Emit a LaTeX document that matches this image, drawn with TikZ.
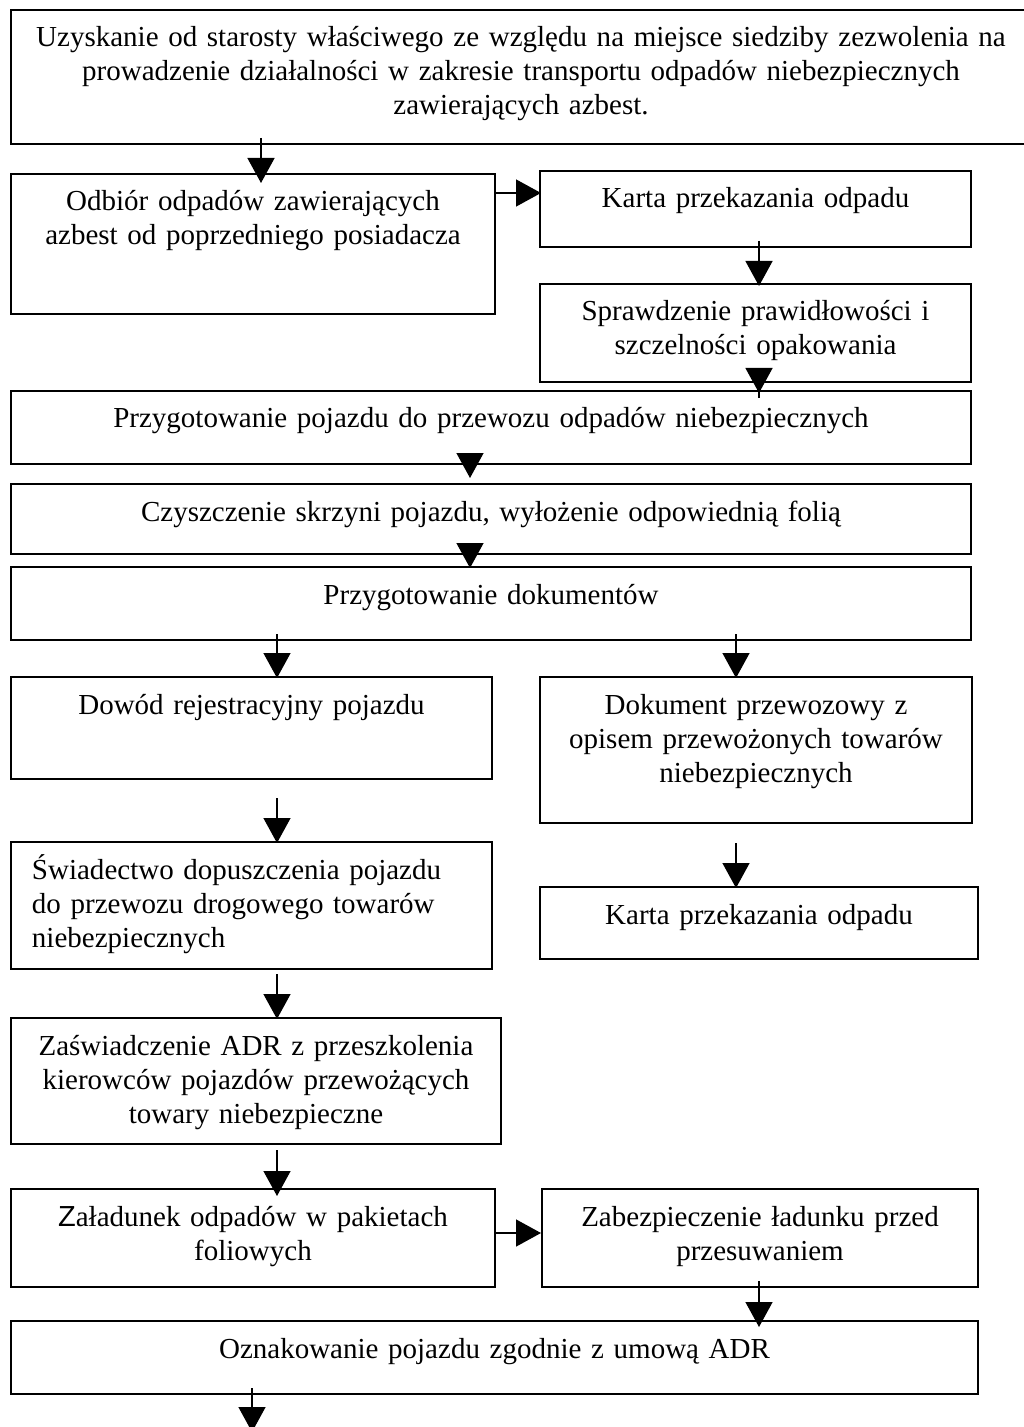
\documentclass[tikz,border=0pt]{standalone}
\usepackage{fontspec}
\setmainfont{Liberation Serif}
\setsansfont{Liberation Sans}
\usepackage{tikz}
\usetikzlibrary{arrows.meta}

\begin{document}
\begin{tikzpicture}[x=0.5pt, y=-0.5pt,
        box/.style={draw, line width=1pt, anchor=north west, inner xsep=0pt, inner ysep=0pt,
            align=center, text height=18.5pt, font=\fontsize{14.5pt}{17pt}\selectfont},
        arr/.style={-{Triangle[length=12.5pt, width=13.5pt]}, line width=0.7pt}]
        \useasboundingbox (0,0) rectangle (1023,1427);

        % Upper part
        \node[box, text width=510pt, text depth=48.5pt] (uzysk) at (10,9)
            {Uzyskanie od starosty właściwego ze względu na miejsce siedziby zezwolenia na\\
             prowadzenie działalności w zakresie transportu odpadów niebezpiecznych\\
             zawierających azbest.};
        \node[box, text width=242pt, text depth=51.5pt] (odbior) at (10,173)
            {Odbiór odpadów zawierających\\ azbest od poprzedniego posiadacza};
        \node[box, text width=215.5pt, text depth=19.5pt] (karta) at (539,170)
            {Karta przekazania odpadu};
        \node[box, text width=215.5pt, text depth=30.5pt] (sprawdz) at (539,283)
            {Sprawdzenie prawidłowości i\\ szczelności opakowania};
        \node[box, text width=480pt, text depth=18pt] (pojazd) at (10,390)
            {Przygotowanie pojazdu do przewozu odpadów niebezpiecznych};
        \node[box, text width=480pt, text depth=16.5pt] (czysz) at (10,483)
            {Czyszczenie skrzyni pojazdu, wyłożenie odpowiednią folią};
        \node[box, text width=480pt, text depth=18pt] (dokum) at (10,566)
            {Przygotowanie dokumentów};

        % Documents
        \node[box, text width=240.5pt, text depth=32.5pt] (dowod) at (10,676)
            {Dowód rejestracyjny pojazdu};
        \node[box, text width=216pt, text depth=54.5pt] (przewoz) at (539,676)
            {Dokument przewozowy z\\ opisem przewożonych towarów\\ niebezpiecznych};
        \node[box, align=left, inner xsep=10.5pt, text width=219.5pt, text depth=45pt] (swiad) at (10,841)
            {Świadectwo dopuszczenia pojazdu\\ do przewozu drogowego towarów\\ niebezpiecznych};
        \node[box, text width=219pt, text depth=17.5pt] (karta2) at (539,886)
            {Karta przekazania odpadu};
        \node[box, text width=245pt, text depth=44.5pt] (adr) at (10,1017)
            {Zaświadczenie ADR z przeszkolenia\\ kierowców pojazdów przewożących\\ towary niebezpieczne};

        % Loading
        \node[box, text width=242pt, text depth=30.5pt] (zalad) at (10,1188)
            {{\sffamily Z}aładunek odpadów w pakietach\\ foliowych};
        \node[box, text width=218pt, text depth=30.5pt] (zabezp) at (541,1188)
            {Zabezpieczenie ładunku przed\\ przesuwaniem};
        \node[box, text width=483.5pt, text depth=18pt] (oznak) at (10,1320)
            {Oznakowanie pojazdu zgodnie z umową ADR};
        \coordinate (koniec) at (252,1432);

        % Arrows
        \draw[arr, shorten <=-3.5pt, shorten >=-5pt] (uzysk.south -| 261,0) -- (odbior.north -| 261,0);
        \draw[arr, shorten >=-1pt] (odbior.east |- 0,193) -- (karta.west |- 0,193);
        \draw[arr, shorten <=-3.5pt, shorten >=-1.5pt] (karta.south -| 759,0) -- (sprawdz.north -| 759,0);
        \draw[arr, shorten <=-7.5pt, shorten >=-1.5pt] (sprawdz.south -| 759,0) -- (pojazd.north -| 759,0);
        \draw[arr, shorten <=-5pt, shorten >=2.5pt] (pojazd.south -| 470,0) -- (czysz.north -| 470,0);
        \draw[arr, shorten <=-5pt, shorten >=-1pt] (czysz.south -| 470,0) -- (dokum.north -| 470,0);
        \draw[arr, shorten <=-3.5pt, shorten >=-1pt] (dokum.south -| 277,0) -- (dowod.north -| 277,0);
        \draw[arr, shorten <=-3.5pt, shorten >=-1pt] (dokum.south -| 736,0) -- (przewoz.north -| 736,0);
        \draw[arr, shorten <=9pt, shorten >=-1pt] (dowod.south -| 277,0) -- (swiad.north -| 277,0);
        \draw[arr, shorten <=9.5pt, shorten >=-1pt] (przewoz.south -| 736,0) -- (karta2.north -| 736,0);
        \draw[arr, shorten <=2pt, shorten >=-1pt] (swiad.south -| 277,0) -- (adr.north -| 277,0);
        \draw[arr, shorten <=2.5pt, shorten >=-4pt] (adr.south -| 277,0) -- (zalad.north -| 277,0);
        \draw[arr] (zalad.east |- 0,1233) -- (zabezp.west |- 0,1233);
        \draw[arr, shorten <=-3.5pt, shorten >=-3.5pt] (zabezp.south -| 759,0) -- (oznak.north -| 759,0);
        \draw[arr, shorten <=-3.5pt] (oznak.south -| 252,0) -- (koniec);
\end{tikzpicture}
\end{document}
